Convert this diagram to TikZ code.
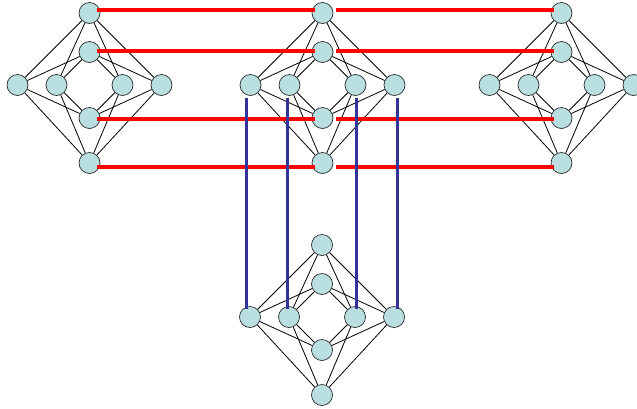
\documentclass[tikz,border=0pt]{standalone}
\usepackage{tikz}
\usetikzlibrary{positioning}
\definecolor{vxfill}{HTML}{B9DFE1}
\definecolor{vxline}{HTML}{2A2A2A}
\definecolor{linkred}{HTML}{FF0000}
\definecolor{linkblue}{HTML}{333399}
\tikzset{
  vx/.style={circle,draw=vxline,fill=vxfill,minimum size=21pt,inner sep=0pt,line width=0.7pt},
  edge/.style={black,line width=0.8pt},
  redlink/.style={linkred,line width=3.2pt},
  bluelink/.style={linkblue,line width=3.3pt},
}

\begin{document}
\begin{tikzpicture}[x=1pt,y=-1pt]
\useasboundingbox (0,0) rectangle (637,408);
% four copies of the same 8-vertex graph
\foreach \u/\cx/\cy in {a/89.5/85, b/322.5/85, c/561.5/85, d/322/317} {
  \node[vx] (\u-ot) at (\cx,\cy-72) {};
  \node[vx] (\u-it) at (\cx,\cy-33) {};
  \node[vx] (\u-ib) at (\cx,\cy+33) {};
  \node[vx] (\u-ob) at (\cx,\cy+78) {};
  \node[vx] (\u-ol) at (\cx-72,\cy) {};
  \node[vx] (\u-il) at (\cx-33,\cy) {};
  \node[vx] (\u-ir) at (\cx+33,\cy) {};
  \node[vx] (\u-or) at (\cx+72,\cy) {};
  \foreach \p in {ot,it,ib,ob}
    \foreach \q in {ol,il,ir,or}
      \draw[edge] (\u-\p) -- (\u-\q);
}
% red links along the rows
\foreach \p/\dy in {ot/-3, it/-1, ib/1, ob/4} {
  \draw[redlink] ([shift={(7,\dy)}]a-\p.center) -- ([shift={(-8,\dy)}]b-\p.center);
  \draw[redlink] ([shift={(13,\dy)}]b-\p.center) -- ([shift={(-8,\dy)}]c-\p.center);
}
% blue links down to the lower copy
\foreach \q/\dx in {ol/-4, il/-2, ir/0.7, or/2.7}
  \draw[bluelink] ([shift={(\dx,12.7)}]b-\q.center) -- ([shift={(\dx,-7.7)}]b-\q.center |- d-\q.center);
\end{tikzpicture}
\end{document}
